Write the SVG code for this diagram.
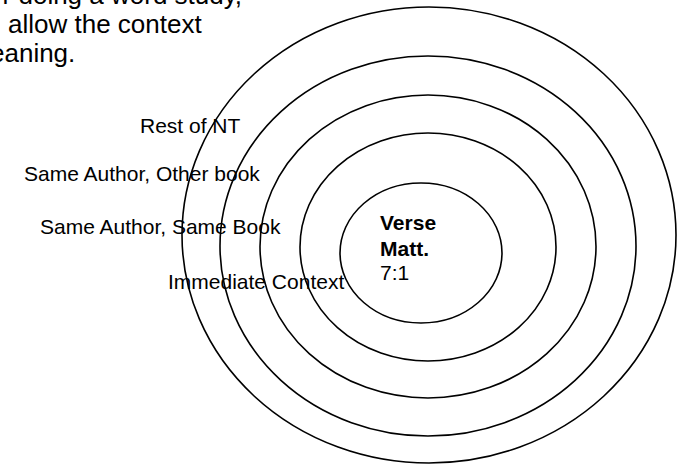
<svg xmlns="http://www.w3.org/2000/svg" width="687" height="464" viewBox="0 0 687 464">
<style>
.ring{fill:none;stroke:#000;stroke-width:1.6}
.t{font-family:"Liberation Sans",Arial,sans-serif;font-size:21px;fill:#000}
.p{font-family:"Liberation Sans",Arial,sans-serif;font-size:26px;fill:#000}
.b{font-weight:bold}
</style>
<rect width="687" height="464" fill="#fff"/>
<g id="intro">
<text class="p" x="242" y="4" text-anchor="end">r doing a word study,</text>
<text class="p" x="8" y="33">allow the context</text>
<text class="p" x="-10" y="62">eaning.</text>
</g>
<g id="connectors"></g>
<g id="ring-nt"><ellipse class="ring" cx="429" cy="235" rx="247" ry="228"/></g>
<g id="ring-other-book"><ellipse class="ring" cx="428" cy="246" rx="208" ry="190"/></g>
<g id="ring-same-book"><ellipse class="ring" cx="428" cy="246.5" rx="168" ry="151.5"/></g>
<g id="ring-immediate"><ellipse class="ring" cx="428" cy="247" rx="128" ry="114"/></g>
<g id="ring-verse"><ellipse class="ring" cx="421" cy="253" rx="81" ry="70"/></g>
<g id="label-nt"><text class="t" x="140" y="133">Rest of NT</text></g>
<g id="label-other-book"><text class="t" x="24" y="181">Same Author, Other book</text></g>
<g id="label-same-book"><text class="t" x="40" y="234">Same Author, Same Book</text></g>
<g id="label-immediate"><text class="t" x="168" y="289">Immediate Context</text></g>
<g id="label-verse">
<text class="t b" x="380" y="230">Verse</text>
<text class="t b" x="380" y="256">Matt.</text>
<text class="t" x="380" y="280">7:1</text>
</g>
</svg>
